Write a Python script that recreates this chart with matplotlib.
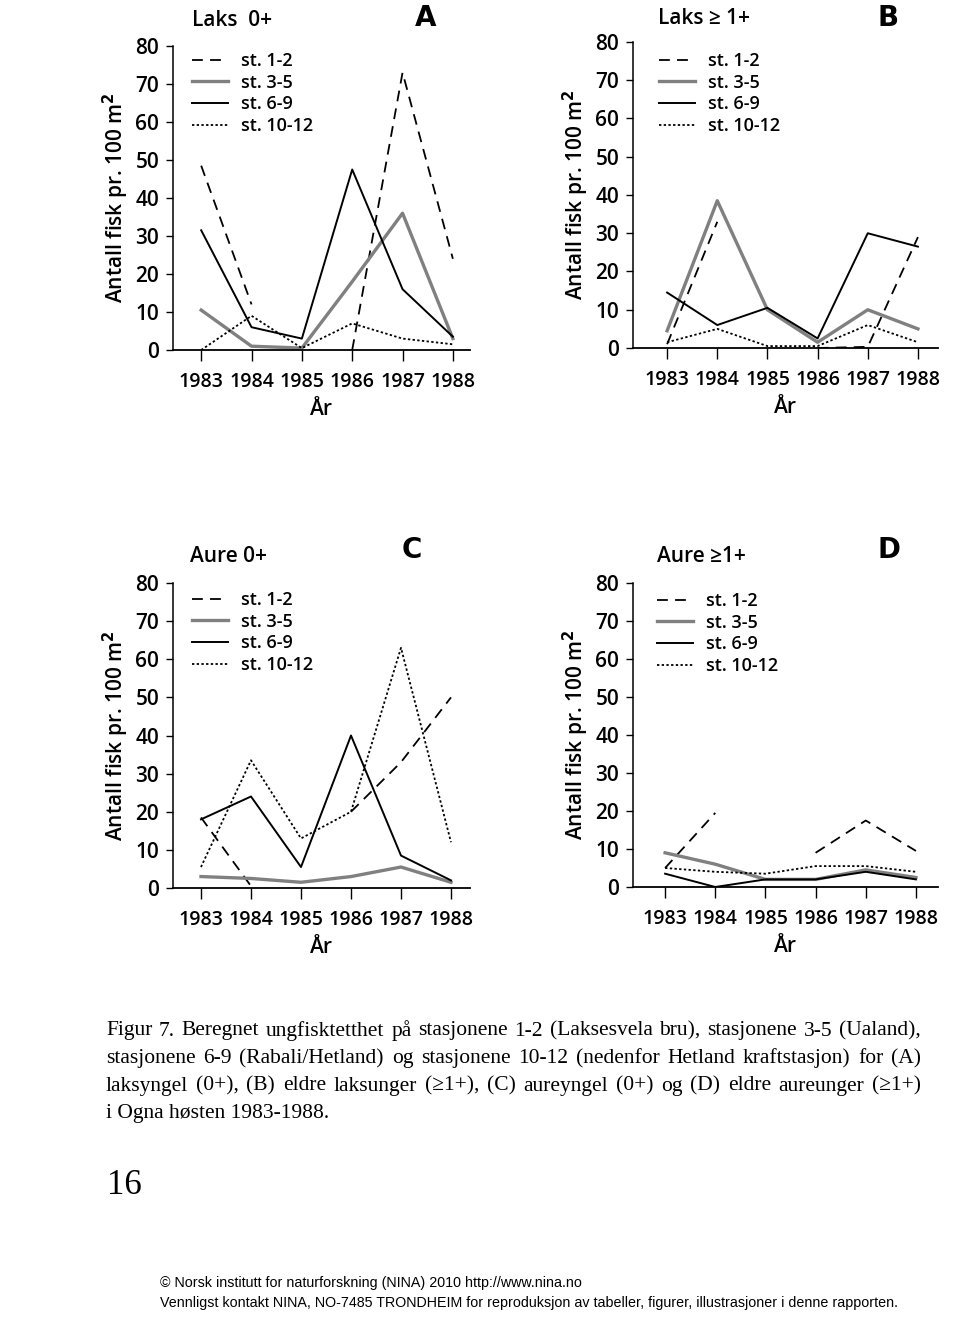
import numpy as np
import matplotlib.pyplot as plt

# ---- data (Antall fisk pr. 100 m2), NaN = no value ----
years = [1983, 1984, 1985, 1986, 1987, 1988]
labels = ["st. 1-2", "st. 3-5", "st. 6-9", "st. 10-12"]

laks0_st12 = [48.5, 12, np.nan, 0, 73, 24]
laks0_st35 = [10.5, 1, 0.5, 18, 36, 3]
laks0_st69 = [31.5, 6, 3, 47.5, 16, 3.5]
laks0_st1012 = [0, 9, 0.5, 7, 3, 1.5]

laks1_st12 = [1, 33, np.nan, 0, 0.3, 29]
laks1_st35 = [4.5, 38.5, 10, 1.5, 10, 5]
laks1_st69 = [14.5, 6, 10.5, 2.5, 30, 26.5]
laks1_st1012 = [1.5, 5, 0.5, 0.5, 6, 1.5]

aure0_st12 = [18.5, 0.5, np.nan, 20, 33, 50]
aure0_st35 = [3, 2.5, 1.5, 3, 5.5, 1.5]
aure0_st69 = [18, 24, 5.5, 40, 8.5, 2]
aure0_st1012 = [5.5, 33.5, 13, 20, 63, 12]

aure1_st12 = [5, 19.5, np.nan, 9, 17.5, 9.5]
aure1_st35 = [9, 6, 2, 2, 4.5, 2.5]
aure1_st69 = [3.5, 0, 2, 2, 4, 2]
aure1_st1012 = [5, 4, 3.5, 5.5, 5.5, 4]

caption = [
    "Figur 7. Beregnet ungfisktetthet på stasjonene 1-2 (Laksesvela bru), stasjonene 3-5 (Ualand),",
    "stasjonene 6-9 (Rabali/Hetland) og stasjonene 10-12 (nedenfor Hetland kraftstasjon) for (A)",
    "laksyngel (0+), (B) eldre laksunger (≥1+), (C) aureyngel (0+) og (D) eldre aureunger (≥1+)",
    "i Ogna høsten 1983-1988.",
]

plt.rcParams['font.family'] = ['Open Sans', 'DejaVu Sans']
plt.rcParams['font.weight'] = 'semibold'
plt.rcParams['axes.labelweight'] = 'semibold'

W, H = 960, 1326
fig = plt.figure(figsize=(W / 100, H / 100), dpi=100)

def box(x0, x1, ybot, ytop):
    return [x0 / W, 1 - ybot / H, (x1 - x0) / W, (ybot - ytop) / H]

styles = [
    dict(color="black", lw=1.3, ls=(0, (6, 4))),
    dict(color="0.5", lw=2.4, ls="-"),
    dict(color="black", lw=1.4, ls="-"),
    dict(color="black", lw=1.3, ls=(0, (1.3, 1.3))),
]

# axes box (px), xlim, legend top-left (px), series
panels = [
    ((173, 470, 350, 46), (1982.44, 1988.34), (192, 52),
     [laks0_st12, laks0_st35, laks0_st69, laks0_st1012]),
    ((633, 938, 348, 42), (1982.32, 1988.40), (659, 52),
     [laks1_st12, laks1_st35, laks1_st69, laks1_st1012]),
    ((173, 470, 888, 583), (1982.44, 1988.38), (192, 591),
     [aure0_st12, aure0_st35, aure0_st69, aure0_st1012]),
    ((633, 938, 887, 583), (1982.36, 1988.44), (657, 592),
     [aure1_st12, aure1_st35, aure1_st69, aure1_st1012]),
]

for (x0, x1, yb, yt), xl, (lx, ly), series in panels:
    ax = fig.add_axes(box(x0, x1, yb, yt))
    for vals, st, lab in zip(series, styles, labels):
        ax.plot(years, vals, label=lab, **st)
    ax.set_xlim(*xl)
    ax.set_ylim(0, 80)
    ax.set_yticks(range(0, 81, 10))
    ax.set_xticks(years)
    ax.set_xticklabels([str(y) for y in years])
    for s in ["top", "right"]:
        ax.spines[s].set_visible(False)
    ax.spines["left"].set_linewidth(1.1)
    ax.spines["bottom"].set_linewidth(1.3)
    ax.tick_params(axis="y", direction="out", length=5, width=1, labelsize=15, pad=5)
    ax.tick_params(axis="x", direction="out", length=8, width=1, labelsize=14, pad=8)
    ax.set_xlabel("År", fontsize=15, labelpad=5)
    ax.set_ylabel("Antall fisk pr. 100 m$^2$", fontsize=15, labelpad=3)
    ax.legend(loc="upper left", bbox_to_anchor=(lx / W, 1 - ly / H),
              bbox_transform=fig.transFigure, frameon=False, borderpad=0,
              fontsize=13, handlelength=2.0, handletextpad=0.7,
              labelspacing=0.2, borderaxespad=0)

# panel titles and letters
heading = dict(fontsize=15, va="center")
letter = dict(fontsize=20, va="center", family="DejaVu Sans", fontweight="heavy")
fig.text(192 / W, 1 - 20 / H, "Laks  0+", **heading)
fig.text(415 / W, 1 - 18 / H, "A", **letter)
fig.text(658 / W, 1 - 18 / H, "Laks ≥ 1+", **heading)
fig.text(878 / W, 1 - 18 / H, "B", **letter)
fig.text(190 / W, 1 - 556 / H, "Aure 0+", **heading)
fig.text(402 / W, 1 - 550 / H, "C", **letter)
fig.text(657 / W, 1 - 556 / H, "Aure ≥1+", **heading)
fig.text(878 / W, 1 - 550 / H, "D", **letter)

# caption, justified like the printed page
serif = ["Liberation Serif", "DejaVu Serif"]
cap_left, cap_right = 106, 921
cap_size = 15.5
renderer = fig.canvas.get_renderer()

def text_width(s):
    t = fig.text(0, 0, s, fontsize=cap_size, family=serif, fontweight="normal")
    w = t.get_window_extent(renderer).width
    t.remove()
    return w

for i, line in enumerate(caption):
    y = 1 - (1031 + 27.5 * i) / H
    if i == len(caption) - 1:
        fig.text(cap_left / W, y, line, fontsize=cap_size, family=serif,
                 fontweight="normal", va="center")
        continue
    words = line.split(" ")
    extra = (cap_right - cap_left - text_width(line)) / (len(words) - 1)
    for k, w in enumerate(words):
        if k == 0:
            off = 0
        else:
            head = " ".join(words[:k + 1])
            off = text_width(head) - text_width(w)
        fig.text((cap_left + off + k * extra) / W, y, w, fontsize=cap_size,
                 family=serif, fontweight="normal", va="center")

fig.text(107 / W, 1 - 1185 / H, "16", fontsize=25, family=serif,
         fontweight="normal", va="center")

footer = dict(fontsize=10.3, family=["Liberation Sans", "DejaVu Sans"],
              fontweight="normal", va="center")
fig.text(160 / W, 1 - 1283 / H,
         "© Norsk institutt for naturforskning (NINA) 2010 http://www.nina.no", **footer)
fig.text(160 / W, 1 - 1303 / H,
         "Vennligst kontakt NINA, NO-7485 TRONDHEIM for reproduksjon av tabeller, figurer, illustrasjoner i denne rapporten.",
         **footer)

fig.savefig("out.png", dpi=100)
plt.close(fig)
